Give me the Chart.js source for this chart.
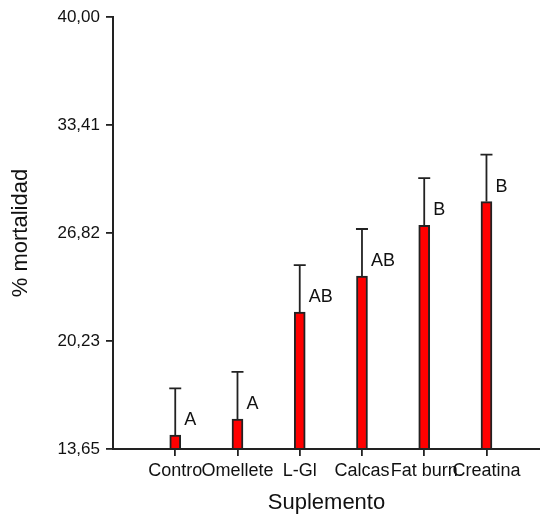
<!DOCTYPE html>
<html>
<head>
<meta charset="utf-8">
<script src="https://cdn.jsdelivr.net/npm/chart.js@4"></script>
<style>
  html, body { margin: 0; padding: 0; background: #fff; }
  canvas { display: block; }
</style>
</head>
<body>
<canvas id="c" width="540" height="517"></canvas>
<script>
// Supplements on the x axis (labels as printed, clipped to their slot)
const categories = ['Contro', 'Omellete', 'L-Gl', 'Calcas', 'Fat burn', 'Creatina'];
// Mean mortality (%) per supplement
const means = [14.50, 15.48, 22.00, 24.20, 27.30, 28.74];
// Upper end of each error bar (%)
const upper = [17.35, 18.35, 24.87, 27.07, 30.17, 31.61];
// Significance groups shown next to each bar
const groups = ['A', 'A', 'AB', 'AB', 'B', 'B'];
// Y axis tick values
const yTicks = [13.65, 20.23, 26.82, 33.41, 40.00];

const FONT = "'Liberation Sans', Arial, sans-serif";
const INK = '#111';

const barPoints = categories.map((c, i) => ({ x: i + 1, y: means[i] }));

// Draws one-sided (upward) error bars and group letters over the bars
const annotate = {
  id: 'annotate',
  afterDatasetsDraw(chart) {
    const { ctx, scales: { x, y } } = chart;
    ctx.save();
    ctx.strokeStyle = '#222';
    ctx.lineWidth = 1.8;
    categories.forEach((c, i) => {
      const px = x.getPixelForValue(i + 1);
      const yTop = y.getPixelForValue(means[i]);
      const yErr = y.getPixelForValue(upper[i]);
      ctx.beginPath();
      ctx.moveTo(px, yTop);
      ctx.lineTo(px, yErr);
      ctx.moveTo(px - 6, yErr);
      ctx.lineTo(px + 6, yErr);
      ctx.stroke();
      ctx.fillStyle = INK;
      ctx.font = '18px ' + FONT;
      ctx.textAlign = 'left';
      ctx.textBaseline = 'middle';
      ctx.fillText(groups[i], px + 9, yTop - 15);
    });
    ctx.restore();
  }
};

new Chart(document.getElementById('c'), {
  type: 'bar',
  data: {
    datasets: [{
      data: barPoints,
      base: 13.65,
      backgroundColor: '#ff0000',
      borderColor: '#222',
      borderWidth: 2,
      barThickness: 11
    }]
  },
  options: {
    responsive: false,
    animation: false,
    layout: { padding: { top: 17, left: 0, right: 0, bottom: 0 } },
    plugins: { legend: { display: false }, tooltip: { enabled: false } },
    scales: {
      x: {
        type: 'linear',
        min: 0,
        max: 6.86,
        offset: false,
        afterBuildTicks(scale) { scale.ticks = categories.map((c, i) => ({ value: i + 1 })); },
        afterFit(scale) { scale.height = 68; },
        grid: { display: true, offset: false, drawOnChartArea: false, drawTicks: true, tickLength: 7, color: '#222', lineWidth: 1.8 },
        border: { display: true, color: '#222', width: 2 },
        ticks: {
          autoSkip: false,
          maxRotation: 0,
          minRotation: 0,
          padding: 4,
          color: INK,
          font: { family: FONT, size: 18 },
          callback: (v) => categories[Math.round(v) - 1] || ''
        },
        title: {
          display: true,
          text: 'Suplemento',
          color: INK,
          font: { family: FONT, size: 22 },
          padding: { top: 2, bottom: 1 }
        }
      },
      y: {
        min: 13.65,
        max: 40,
        afterBuildTicks(scale) { scale.ticks = yTicks.map(v => ({ value: v })); },
        afterFit(scale) { scale.width = 113; },
        grid: { display: true, drawOnChartArea: false, drawTicks: true, tickLength: 7, color: '#222', lineWidth: 1.8 },
        border: { display: true, color: '#222', width: 2 },
        ticks: {
          padding: 6,
          color: INK,
          font: { family: FONT, size: 17 },
          callback: (v) => v.toFixed(2).replace('.', ',')
        },
        title: {
          display: true,
          text: '% mortalidad',
          color: INK,
          font: { family: FONT, size: 22 },
          padding: { top: 8, bottom: 8 }
        }
      }
    }
  },
  plugins: [annotate]
});
</script>
</body>
</html>
